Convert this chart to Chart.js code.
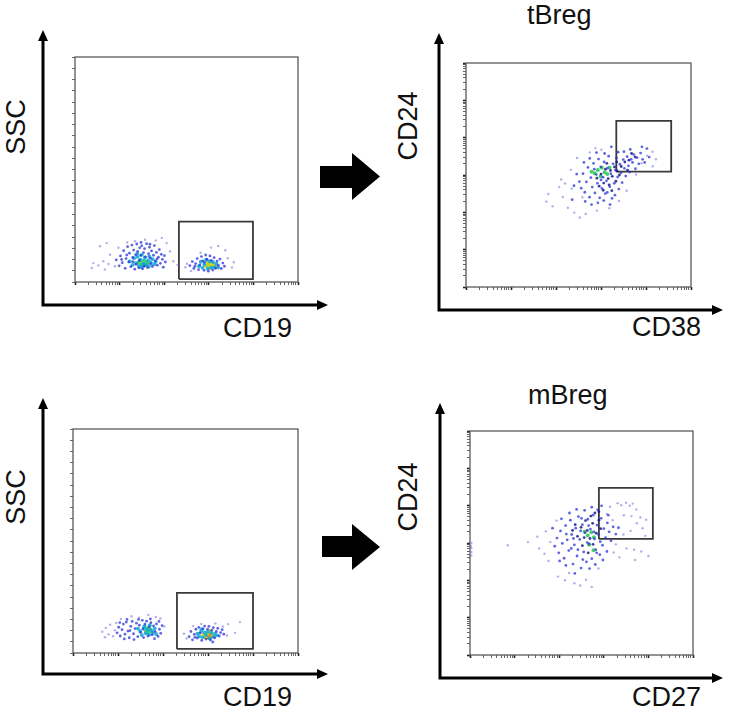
<!DOCTYPE html>
<html>
<head>
<meta charset="utf-8">
<script src="https://cdn.jsdelivr.net/npm/chart.js@4.4.1/dist/chart.umd.min.js"></script>
<style>
  body { margin: 0; background: #fff; }
  #page { position: relative; width: 732px; height: 712px; overflow: hidden; font-family: "Liberation Sans", Arial, sans-serif; }
  canvas { position: absolute; }
  .lbl { position: absolute; font-size: 27px; line-height: 27px; color: #111; white-space: nowrap; }
  .rot { transform: translate(-50%, -50%) rotate(-90deg); }
  .bigArrow { position: absolute; background: #000; }
</style>
</head>
<body>
<div id="page">
  <div class="lbl rot" style="left:16px;top:127px">SSC</div>
  <div class="lbl" style="left:223px;top:315px">CD19</div>
  <div class="lbl" style="left:527px;top:2px">tBreg</div>
  <div class="lbl rot" style="left:408px;top:126px">CD24</div>
  <div class="lbl" style="left:632px;top:314px">CD38</div>

  <div class="lbl rot" style="left:16px;top:497px">SSC</div>
  <div class="lbl" style="left:223px;top:684px">CD19</div>
  <div class="lbl" style="left:528px;top:382px">mBreg</div>
  <div class="lbl rot" style="left:408px;top:497px">CD24</div>
  <div class="lbl" style="left:632px;top:684px">CD27</div>

  <div class="bigArrow" style="left:320px;top:153px;width:60px;height:47px;clip-path:polygon(0 13px,32px 13px,32px 0,60px 23.5px,32px 47px,32px 35px,0 35px)"></div>
  <div class="bigArrow" style="left:322px;top:524px;width:58px;height:46px;clip-path:polygon(0 12px,30px 12px,30px 0,58px 23px,30px 46px,30px 33px,0 33px)"></div>
</div>
<script>
// all values are in % of the plot box (0..100 on both axes)

// top left: CD19 vs SSC
const p1Sparse = [[11.2,15.9],[14.2,17.3],[15.7,12.1],[8.2,8.4],[10.5,7.4],[12.7,9.2],[15.0,8.0],[17.9,7.0],[7.5,6.2],[44.1,9.2],[41.1,17.3],[38.9,19.6],[26.9,18.1],[31.4,18.8],[42.6,13.6],[13.4,5.6],[19.5,15.2],[36.2,18.5],[23.4,17.6],[46.0,7.6],
  [50.2,8.1],[49.5,6.6],[67.4,14.1],[64.2,16.0],[70.4,6.5],[71.2,8.8],[56.3,13.0],[52.0,4.9],[61.0,15.3],[68.5,10.6]];
const p1Blue = [[18.5,9.8],[19.8,7.2],[20.4,11.6],[21.2,8.6],[21.8,13.9],[22.5,6.1],[22.9,10.4],[23.6,15.7],[24.1,8.9],[24.4,12.8],[25.0,6.8],[25.5,16.4],[25.9,10.9],[26.3,14.2],[26.8,5.7],[27.2,12.1],[27.7,16.9],[28.1,13.6],[28.6,6.3],[29.0,15.2],[29.4,11.8],[29.9,16.1],[30.3,5.9],[30.7,13.1],[31.2,14.8],[31.6,11.2],[32.1,17.0],[32.5,6.4],[33.0,12.6],[33.4,15.5],[33.8,10.6],[34.3,13.8],[34.7,6.9],[35.2,11.9],[35.6,16.2],[36.0,9.4],[36.5,13.2],[36.9,7.5],[37.4,11.0],[37.8,14.4],[38.3,8.3],[38.7,12.3],[39.2,10.1],[39.6,6.6],[40.1,11.7],[40.5,8.9],[20.9,10.0],[23.2,12.0],[26.0,9.0],[28.8,9.6],[31.0,7.0],[34.0,8.0],[36.8,10.3],[33.6,16.8],[29.6,17.6],[27.4,7.8],
  [51.5,7.3],[52.6,9.1],[53.3,6.0],[54.1,8.2],[54.8,10.4],[55.4,5.5],[56.0,7.6],[56.7,11.3],[57.3,9.4],[57.9,5.2],[58.6,12.0],[59.2,10.1],[59.8,4.8],[60.5,11.6],[61.1,9.6],[61.8,5.3],[62.4,10.8],[63.0,6.1],[63.7,9.3],[64.3,7.4],[65.0,10.2],[65.6,6.0],[66.3,8.4],[67.0,7.0],[53.8,7.0],[58.0,8.8]];
const p1Cyan = [[24.6,9.2],[25.8,7.6],[26.5,10.6],[27.3,8.4],[28.0,11.2],[28.7,7.1],[29.3,9.9],[30.0,12.1],[30.6,8.2],[31.3,10.8],[32.0,7.6],[32.7,9.6],[33.3,11.4],[34.0,8.8],[34.8,10.2],[35.5,7.9],[36.2,9.0],[29.8,6.6],[27.9,12.6],[33.1,6.9],
  [55.6,7.0],[56.4,9.0],[57.2,6.3],[58.0,7.8],[58.8,9.9],[59.5,6.0],[60.3,9.2],[61.1,6.4],[61.9,8.9],[62.6,6.6],[63.4,8.2],[64.2,6.4]];
const p1Green = [[28.3,8.6],[29.2,9.4],[30.1,8.0],[30.9,9.6],[31.8,8.7],[32.6,8.1],[29.7,7.6],[31.3,7.4]];
const p1Yellow = [[58.6,7.2],[59.4,8.4],[60.2,6.8],[61.0,8.0],[62.2,7.4],[63.0,7.0]];
const p1Orange = [[60.0,7.6],[61.0,7.1],[61.8,7.9],[60.6,6.4]];
const p1Red = [[61.2,7.5]];
const p1Gate = [46.6, 79.8, 1.3, 26.8];

// top right: CD38 vs CD24 (tBreg)
const p2Sparse = [[35.7,38.1],[36.6,41.5],[38.5,36.0],[41.4,44.6],[43.0,40.2],[45.3,35.4],[42.3,48.0],[48.1,33.2],[50.6,31.0],[53.2,32.6],[46.6,52.3],[49.4,57.6],[55.0,60.1],[57.5,62.0],[60.2,61.3],[80.5,58.6],[82.9,60.4],[84.4,57.0],[78.0,55.2],[83.0,53.9],[75.6,50.2],[71.4,43.0],[68.0,38.4],[63.7,35.2],[58.2,34.1],[44.0,46.2],[51.7,40.1],[47.0,43.9]];
const p2Blue = [[50.4,47.0],[51.2,44.1],[52.0,50.6],[52.8,42.3],[53.5,46.9],[54.2,53.4],[54.9,40.1],[55.5,48.8],[56.1,44.6],[56.7,55.2],[57.3,42.0],[57.9,50.2],[58.4,46.3],[58.9,57.1],[59.4,39.8],[59.9,53.6],[60.4,44.0],[60.9,49.0],[61.4,55.8],[61.9,41.7],[62.4,47.4],[62.9,53.1],[63.4,58.4],[63.9,44.8],[64.4,50.6],[64.9,39.6],[65.4,55.0],[65.9,46.3],[66.4,52.2],[66.9,57.6],[67.4,49.1],[67.9,43.7],[68.4,54.8],[68.9,51.0],[69.4,46.6],[69.9,56.9],[70.4,53.0],[71.0,49.5],[71.6,58.2],[72.2,54.1],[72.8,51.3],[73.4,57.0],[74.0,55.6],[74.6,59.1],[75.3,52.8],[76.0,57.8],[76.8,55.0],[77.6,59.8],[78.5,57.0],[79.4,55.6],[80.4,61.8],[81.4,58.0],[53.0,38.2],[55.8,36.8],[58.6,37.6],[61.2,38.6],[62.8,42.2],[64.0,36.8],[60.0,47.8],[57.0,52.6],[55.0,57.4],[52.4,55.6],[49.2,50.4],[48.0,45.2],[47.2,39.0],[66.2,41.0],[70.2,60.4],[73.0,61.4],[78.2,62.6],[67.6,60.2],[64.6,62.6],[61.6,59.6],[58.0,60.0]];
const p2Dark = [[60.0,50.4],[61.2,46.4],[62.0,52.6],[63.2,48.4],[64.2,52.0],[65.0,49.4],[66.0,53.6],[67.2,51.8],[68.2,50.0],[69.0,53.8],[63.6,45.6],[61.0,43.2],[64.8,43.0],[59.2,45.0],[66.6,47.2],[70.6,55.8],[72.4,56.6],[71.8,52.2],[62.6,55.2],[58.2,48.6],[67.0,55.8],[75.2,58.0],[73.6,59.6]];
const p2Green = [[57.2,50.8],[58.6,52.2],[60.4,53.2],[61.6,51.2],[62.8,50.4],[63.8,53.4],[59.8,49.4],[55.8,51.4]];
const p2Gate = [66.8, 91.2, 51.5, 74.2];

// bottom left: CD19 vs SSC
const p3Sparse = [[13.0,9.5],[14.6,11.2],[15.8,8.3],[16.5,12.6],[17.8,7.5],[14.2,7.0],[19.2,13.4],[18.6,10.2],[33.5,17.0],[36.8,16.1],[40.6,11.8],[26.0,16.4],[21.3,15.2],[29.4,15.8],[38.8,15.4],
  [49.3,8.6],[50.5,6.5],[66.6,11.8],[69.0,12.9],[72.0,9.0],[74.2,13.8],[63.3,13.2],[57.0,13.0],[68.4,7.8],[53.4,12.0]];
const p3Blue = [[19.6,9.0],[20.3,11.5],[21.0,7.6],[21.8,10.4],[22.4,12.9],[23.1,8.4],[23.7,13.8],[24.4,9.8],[25.0,6.8],[25.7,11.9],[26.3,14.1],[26.9,8.6],[27.6,10.9],[28.2,13.3],[28.8,7.3],[29.5,12.4],[30.1,9.2],[30.8,14.6],[31.4,6.9],[32.0,12.9],[32.7,14.2],[33.3,7.6],[33.9,11.7],[34.6,13.5],[35.2,8.1],[35.8,12.1],[36.5,9.6],[37.1,13.0],[37.8,7.4],[38.4,10.6],[39.0,8.8],[39.6,12.2],[22.8,6.3],[27.1,6.0],[31.1,10.6],[24.0,15.0],[29.1,15.0],[34.4,15.2],[36.2,6.4],[20.8,13.6],[38.2,14.1],[25.3,10.0],
  [51.6,7.3],[52.4,9.6],[53.1,5.9],[53.9,8.3],[54.6,10.6],[55.2,6.7],[55.9,11.4],[56.5,8.9],[57.2,5.6],[57.8,10.8],[58.5,12.0],[59.1,6.2],[59.8,10.7],[60.4,11.9],[61.1,5.8],[61.7,10.2],[62.4,11.3],[63.0,6.8],[63.7,9.6],[64.3,11.0],[65.0,7.6],[65.6,9.1],[66.3,10.4],[67.0,8.4],[54.2,7.0],[62.1,4.9]];
const p3Cyan = [[29.8,9.8],[30.6,8.0],[31.5,11.4],[32.3,8.8],[33.1,10.4],[33.9,8.2],[34.7,10.1],[35.5,9.1],[36.3,11.0],[31.8,12.0],[28.9,10.9],[34.1,12.4],[37.0,8.4],
  [55.3,8.6],[56.1,7.4],[56.9,9.8],[57.6,7.0],[58.4,9.2],[59.1,8.0],[59.9,9.6],[60.7,6.5],[61.5,9.0],[62.3,7.2],[63.1,8.6],[64.0,7.9],[57.2,10.6]];
const p3Green = [[32.4,9.8],[33.4,9.2],[34.3,10.6],[35.1,9.6],[33.0,11.0]];
const p3Yellow = [[57.9,8.2],[58.8,7.0],[59.6,8.6],[62.0,8.2],[60.9,9.8]];
const p3Orange = [[59.6,7.6],[60.4,8.3],[61.2,7.3],[60.2,6.9],[61.8,7.9]];
const p3Red = [[60.8,7.8]];
const p3Gate = [46.2, 80.0, 1.8, 26.8];

// bottom right: CD27 vs CD24 (mBreg)
const p4Sparse = [[0.6,50.0],[0.6,47.8],[0.6,46.0],[0.6,44.4],[0.4,48.6],[16.9,49.0],[26.0,50.4],[30.2,52.8],[31.0,47.6],[33.4,45.2],[34.0,55.2],[35.2,42.0],[36.0,50.4],[38.8,60.0],[39.5,35.0],[42.6,33.4],[44.4,36.6],[46.8,32.0],[49.4,31.0],[52.0,33.6],[54.6,30.4],[62.8,66.2],[66.2,67.8],[67.8,66.9],[70.0,68.0],[71.6,66.6],[73.0,67.6],[74.6,65.0],[72.4,62.0],[76.4,61.4],[74.8,58.8],[77.4,56.6],[79.0,60.4],[78.6,53.2],[72.0,55.4],[68.8,53.8],[65.4,49.4],[70.2,47.6],[73.6,47.0],[76.8,46.2],[80.0,44.2],[74.0,42.4],[67.0,43.6],[64.4,45.8],[61.4,63.0],[64.0,60.2],[69.0,62.4],[57.6,38.6]];
const p4Blue = [[38.0,48.6],[39.0,52.2],[39.8,45.6],[40.6,55.4],[41.4,49.8],[42.2,43.2],[42.9,57.8],[43.6,51.4],[44.3,46.6],[45.0,60.2],[45.6,53.8],[46.2,40.6],[46.8,49.2],[47.4,56.6],[48.0,44.2],[48.6,61.8],[49.2,51.6],[49.8,38.8],[50.4,58.2],[51.0,46.0],[51.6,54.6],[52.2,41.6],[52.8,60.6],[53.4,49.6],[54.0,56.2],[54.6,43.0],[55.2,62.4],[55.8,51.8],[56.4,47.0],[57.0,58.0],[57.6,53.8],[58.2,44.8],[58.8,61.0],[59.4,49.0],[60.0,56.4],[60.8,52.4],[61.6,59.0],[62.4,55.0],[63.2,51.0],[64.2,57.2],[65.4,54.0],[66.6,56.8],[44.6,63.4],[47.8,65.0],[51.4,64.6],[54.6,66.0],[57.2,64.8],[41.0,60.8],[43.0,40.0],[47.0,36.4],[50.6,42.6],[53.6,38.6],[56.2,40.4],[59.6,42.4],[61.4,46.2],[40.2,42.0],[37.0,56.6],[45.4,47.6],[49.6,55.4],[52.6,50.2],[55.6,55.0],[58.4,50.6],[46.4,52.0],[43.2,54.0],[50.0,61.0],[53.2,57.8],[48.4,47.0],[56.8,45.6],[62.0,62.4],[59.0,66.6]];
const p4Dark = [[48.2,53.0],[49.8,57.0],[51.2,52.4],[52.6,55.6],[53.8,52.0],[55.0,58.8],[56.6,54.4],[57.8,60.2],[54.2,62.0],[51.8,60.0],[47.2,58.2],[50.4,48.8],[55.2,49.4],[58.6,56.4],[46.0,55.6],[53.0,45.6],[56.0,63.4],[57.8,64.0]];
const p4Green = [[51.4,55.0],[52.8,53.4],[54.4,54.8],[55.6,52.6],[53.4,49.2],[55.4,46.8]];
const p4Gate = [57.8, 82.0, 51.8, 74.6];

// minor tick offsets inside one log decade (% of the decade)
const decadeMinor = [0, 30.1, 47.7, 60.2, 69.9, 77.8, 84.5, 90.3, 95.4];

// colour and dot size per density level
const colors = {
  sparse: 'rgba(120,105,215,0.55)',
  lilac: 'rgba(125,120,225,0.6)',
  blue: 'rgba(40,50,215,0.75)',
  dark: 'rgba(20,25,140,0.85)',
  cyan: 'rgba(20,170,215,0.9)',
  green: 'rgba(60,205,100,0.95)',
  yellow: 'rgba(200,215,40,1)',
  orange: 'rgba(240,130,30,1)',
  red: 'rgba(225,60,25,1)'
};
const radii = { sparse: 1.2, lilac: 1.2, blue: 1.4, dark: 1.4, cyan: 1.9, green: 2.0, yellow: 2.0, orange: 2.2, red: 2.2 };

function logTicks(decades) {
  const out = [];
  for (let d = 0; d < decades; d++) {
    decadeMinor.forEach(f => out.push({ value: (d + f / 100) * 100 / decades, major: f === 0 }));
  }
  out.push({ value: 100, major: true });
  return out;
}

function linTicks(step) {
  const out = [];
  for (let v = 0; v <= 100; v += step) out.push({ value: v, major: false });
  return out;
}

function gateLine(g) {
  return [{x: g[0], y: g[2]}, {x: g[1], y: g[2]}, {x: g[1], y: g[3]}, {x: g[0], y: g[3]}, {x: g[0], y: g[2]}];
}

const panels = [
  { box: [75, 57, 298, 282], axisX: 43, axisY: 305, tipTop: 30, tipRight: 328, xTicks: logTicks(5), yTicks: linTicks(5),
    series: [[p1Sparse, 'sparse'], [p1Blue, 'blue'], [p1Cyan, 'cyan'], [p1Green, 'green'], [p1Yellow, 'yellow'], [p1Orange, 'orange'], [p1Red, 'red']], gate: p1Gate },
  { box: [466, 63, 691, 287], axisX: 439, axisY: 310, tipTop: 33, tipRight: 723, xTicks: logTicks(5), yTicks: logTicks(6),
    series: [[p2Sparse, 'lilac'], [p2Blue, 'blue'], [p2Dark, 'dark'], [p2Green, 'green']], gate: p2Gate },
  { box: [73, 429, 298, 653], axisX: 43, axisY: 674, tipTop: 398, tipRight: 328, xTicks: logTicks(5), yTicks: linTicks(5),
    series: [[p3Sparse, 'sparse'], [p3Blue, 'blue'], [p3Cyan, 'cyan'], [p3Green, 'green'], [p3Yellow, 'yellow'], [p3Orange, 'orange'], [p3Red, 'red']], gate: p3Gate },
  { box: [470, 431, 693, 655], axisX: 440, axisY: 678, tipTop: 403, tipRight: 723, xTicks: logTicks(5), yTicks: logTicks(6),
    series: [[p4Sparse, 'lilac'], [p4Blue, 'blue'], [p4Dark, 'dark'], [p4Green, 'green']], gate: p4Gate }
];

// frame around the plot box + the long black axis arrows outside it
const flowAxes = {
  id: 'flowAxes',
  beforeDatasetsDraw(chart, args, o) {
    const a = chart.chartArea, ctx = chart.ctx;
    ctx.save();
    ctx.strokeStyle = '#5a5a5a';
    ctx.lineWidth = 1.3;
    ctx.strokeRect(a.left, a.top, a.right - a.left, a.bottom - a.top);
    ctx.restore();
  },
  afterDraw(chart, args, o) {
    const a = chart.chartArea, ctx = chart.ctx;
    const x0 = a.left - o.gapLeft, y0 = a.bottom + o.gapBottom;
    const yTip = a.top - o.tipUp, xTip = a.right + o.tipRight;
    ctx.save();
    ctx.strokeStyle = '#000';
    ctx.fillStyle = '#000';
    ctx.lineWidth = 3;
    ctx.beginPath();
    ctx.moveTo(x0, yTip + 8);
    ctx.lineTo(x0, y0);
    ctx.lineTo(xTip - 8, y0);
    ctx.stroke();
    ctx.beginPath();
    ctx.moveTo(x0, yTip);
    ctx.lineTo(x0 - 5, yTip + 11);
    ctx.lineTo(x0 + 5, yTip + 11);
    ctx.fill();
    ctx.beginPath();
    ctx.moveTo(xTip, y0);
    ctx.lineTo(xTip - 11, y0 - 5);
    ctx.lineTo(xTip - 11, y0 + 5);
    ctx.fill();
    ctx.restore();
  }
};

function axisOpts(ticks, pos) {
  return {
    type: 'linear',
    position: pos,
    min: 0,
    max: 100,
    afterBuildTicks: s => { s.ticks = ticks.map(t => ({ value: t.value, major: t.major })); },
    afterFit: s => { if (pos === 'bottom') s.height = 0; else s.width = 0; },
    ticks: { display: false },
    border: { display: false },
    grid: {
      drawOnChartArea: false,
      drawTicks: true,
      tickLength: 3,
      tickColor: c => (c.tick && c.tick.major ? '#222' : '#666'),
      tickWidth: c => (c.tick && c.tick.major ? 1.6 : 1)
    }
  };
}

const page = document.getElementById('page');
panels.forEach(p => {
  const left = p.axisX - 8, top = p.tipTop - 2;
  const right = p.tipRight + 4, bottom = p.axisY + 8;
  const cv = document.createElement('canvas');
  cv.width = right - left;
  cv.height = bottom - top;
  cv.style.left = left + 'px';
  cv.style.top = top + 'px';
  page.appendChild(cv);

  const datasets = p.series.map(([pts, col]) => ({
    data: pts.map(([x, y]) => ({ x, y })),
    backgroundColor: colors[col],
    borderWidth: 0,
    pointRadius: radii[col]
  }));
  datasets.push({
    data: gateLine(p.gate),
    showLine: true,
    pointRadius: 0,
    borderColor: '#3a3a3a',
    borderWidth: 1.8
  });

  new Chart(cv, {
    type: 'scatter',
    data: { datasets },
    options: {
      responsive: false,
      animation: false,
      devicePixelRatio: 1,
      events: [],
      layout: { padding: { left: p.box[0] - left, top: p.box[1] - top, right: right - p.box[2], bottom: bottom - p.box[3] } },
      scales: { x: axisOpts(p.xTicks, 'bottom'), y: axisOpts(p.yTicks, 'left') },
      plugins: {
        legend: { display: false },
        tooltip: { enabled: false },
        flowAxes: { gapLeft: p.box[0] - p.axisX, gapBottom: p.axisY - p.box[3], tipUp: p.box[1] - p.tipTop, tipRight: p.tipRight - p.box[2] }
      }
    },
    plugins: [flowAxes]
  });
});
</script>
</body>
</html>
